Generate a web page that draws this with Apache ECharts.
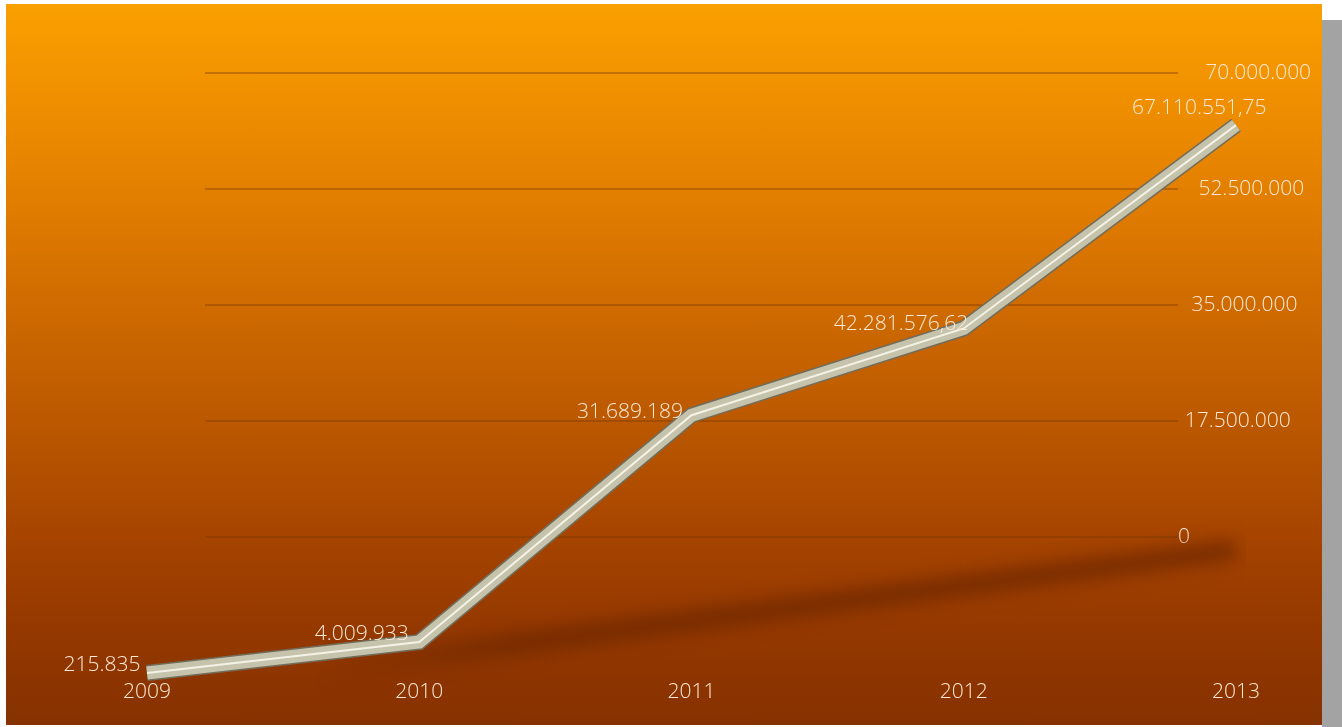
<!DOCTYPE html>
<html>
<head>
<meta charset="utf-8">
<script src="https://cdn.jsdelivr.net/npm/echarts@6/dist/echarts.min.js"></script>
<style>
  html, body { margin: 0; padding: 0; background: #ffffff; width: 1342px; height: 727px; overflow: hidden; }
  #panel { position: absolute; left: 6px; top: 4px; width: 1316px; height: 721px;
    background: linear-gradient(to bottom, #faa000 0%, #ef8e00 14%, #e27e00 27%, #d06c00 41%, #bb5800 58%, #a64400 74%, #953900 86%, #863100 100%); }
  #edge { position: absolute; left: 1322px; top: 20px; width: 20px; height: 707px; background: #a3a3a3; }
  #chart { position: absolute; left: 0; top: 0; width: 1342px; height: 727px; }
</style>
</head>
<body>
<div id="panel"></div>
<div id="edge"></div>
<div id="chart"></div>
<script>
// ---- data ----
const years = ['2009', '2010', '2011', '2012', '2013'];
const values = [215835, 4009933, 31689189, 42281576.62, 67110551.75];
const axisTicks = [0, 17500000, 35000000, 52500000, 70000000];

// ---- styles (kept apart from data) ----
const labelOffsets = [[-1, -8], [-5, -8], [-3, -3], [10, -4], [36, -17]];
const textColor = '#fbe8d6';
const fontFamily = '"Open Sans", "DejaVu Sans", sans-serif';
const shadowLift = 800; // shadow shape drawn off-canvas, only its blur is shown

function fmtEU(v) {
  const neg = v < 0;
  v = Math.abs(v);
  let intPart = Math.floor(v);
  let dec = Math.round((v - intPart) * 100);
  if (dec === 100) { intPart += 1; dec = 0; }
  const s = String(intPart).replace(/\B(?=(\d{3})+(?!\d))/g, '.');
  return (neg ? '-' : '') + s + (dec ? ',' + String(dec).padStart(2, '0') : '');
}

// floor shadow follows the category (year) direction in the 3D scene
const yearNumbers = years.map(Number);

const rich = {};
axisTicks.forEach((t, i) => {
  rich['p' + i] = { padding: [0, 0, 0, i * 6.8], color: textColor, fontSize: 21, fontFamily: fontFamily, fontWeight: 300 };
});

const chart = echarts.init(document.getElementById('chart'), null, { renderer: 'canvas' });
chart.setOption({
  backgroundColor: 'transparent',
  animation: false,
  grid: [
    { left: 205, right: 164, top: 73, bottom: 190 },
    { left: 147, right: 106, top: 73, bottom: 46 }
  ],
  xAxis: [
    { gridIndex: 0, type: 'category', data: years, show: false },
    {
      gridIndex: 1, type: 'category', data: years, boundaryGap: false,
      axisLine: { show: false }, axisTick: { show: false }, splitLine: { show: false },
      axisLabel: { color: textColor, fontSize: 21, fontFamily: fontFamily, fontWeight: 300, margin: 1 }
    }
  ],
  yAxis: [
    {
      gridIndex: 0, type: 'value', position: 'right',
      min: axisTicks[0], max: axisTicks[axisTicks.length - 1], interval: axisTicks[1] - axisTicks[0],
      axisLine: { show: false }, axisTick: { show: false },
      splitLine: { lineStyle: { color: 'rgba(120,55,0,0.5)', width: 1.5 } },
      axisLabel: {
        margin: 0,
        formatter: function (v, idx) { return '{p' + idx + '|' + fmtEU(v) + '}'; },
        rich: rich
      }
    },
    { gridIndex: 1, type: 'value', min: -757000, max: 73470000, show: false, splitLine: { show: false } },
    { gridIndex: 1, type: 'value', min: 1986.774, max: 2003.901, show: false, splitLine: { show: false } }
  ],
  series: [
    {
      name: 'floor shadow', type: 'line', xAxisIndex: 1, yAxisIndex: 2, data: yearNumbers,
      symbol: 'none', clip: false, silent: true,
      lineStyle: {
        width: 20,
        color: new echarts.graphic.LinearGradient(0, 0, 1, 0, [
          { offset: 0, color: 'rgba(100,35,0,0)' },
          { offset: 0.16, color: 'rgba(100,35,0,0)' },
          { offset: 0.34, color: 'rgba(100,35,0,1)' },
          { offset: 1, color: 'rgba(100,35,0,1)' }
        ]),
        shadowBlur: 18, shadowColor: 'rgba(110,38,0,0.8)', shadowOffsetY: shadowLift, cap: 'butt'
      }
    },
    {
      name: 'edge', type: 'line', xAxisIndex: 1, yAxisIndex: 1, data: values,
      symbol: 'none', clip: false, silent: true,
      lineStyle: { width: 16, color: '#726d5b', cap: 'butt', join: 'miter' }
    },
    {
      name: 'body', type: 'line', xAxisIndex: 1, yAxisIndex: 1, data: values,
      symbol: 'circle', symbolSize: 1, showSymbol: true, clip: false,
      itemStyle: { color: 'transparent', borderWidth: 0 },
      lineStyle: { width: 13, color: '#c6c3ad', cap: 'butt', join: 'miter' },
      label: {
        show: true, position: 'left', distance: 5,
        color: textColor, fontSize: 21, fontFamily: fontFamily, fontWeight: 300,
        formatter: function (p) { return fmtEU(p.value); }
      },
      labelLayout: function (p) {
        const o = labelOffsets[p.dataIndex] || [0, 0];
        return { dx: o[0], dy: o[1], hideOverlap: false };
      }
    },
    {
      name: 'highlight', type: 'line', xAxisIndex: 1, yAxisIndex: 1, data: values,
      symbol: 'none', clip: false, silent: true,
      lineStyle: { width: 2, color: '#f4f2e4', cap: 'butt', join: 'miter' }
    }
  ]
});
</script>
</body>
</html>
